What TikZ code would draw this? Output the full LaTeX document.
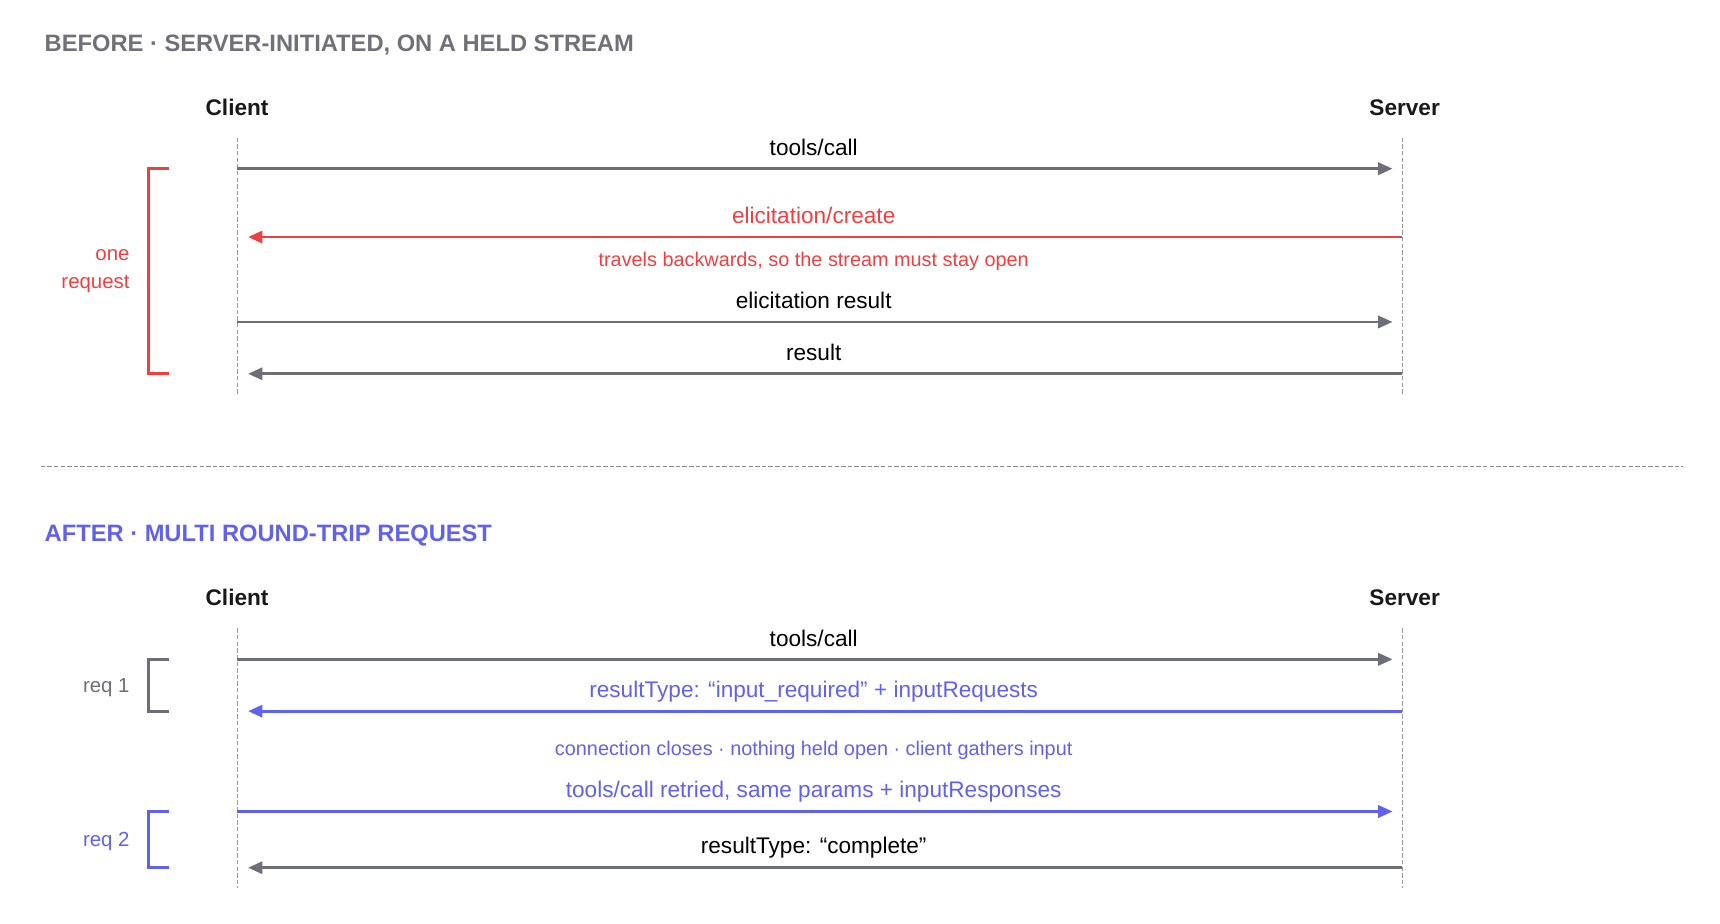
\documentclass[tikz,border=0pt]{standalone}
\usepackage{fontspec}
\setmainfont{Liberation Sans}
\usetikzlibrary{arrows.meta}
\definecolor{gr}{HTML}{6E6E78}
\definecolor{rd}{HTML}{EE4040}
\definecolor{bl}{HTML}{6062EC}
\definecolor{tg}{HTML}{707078}
\begin{document}
\begin{tikzpicture}[x=1pt,y=-1pt,
  lbl/.style={font=\fontsize{20.5}{22}\selectfont,anchor=base},
  note/.style={font=\fontsize{18}{19}\selectfont,anchor=base},
  side/.style={font=\fontsize{18.5}{20}\selectfont,anchor=base east},
  ttl/.style={font=\fontsize{21.5}{23}\selectfont\bfseries,anchor=base west},
  actor/.style={font=\fontsize{20.5}{22}\selectfont\bfseries,anchor=base,text=black!90},
  life/.style={draw=gr!70,dashed,dash pattern=on 4pt off 2pt,line width=0.9pt},
  msg/.style={line width=2.6pt,-{Triangle[length=13pt,width=11pt]}},
  brk/.style={line width=2.6pt}]
\useasboundingbox (0,0) rectangle (1560,838);
% ---------- BEFORE
\node[ttl,text=tg] (t1) at (37,47) {BEFORE · SERVER-INITIATED, ON A HELD STREAM};
\node[actor] (c1) at (215,105) {Client};
\node[actor] (s1) at (1274,105) {Server};
\coordinate (c1t) at (215,125); \coordinate (c1b) at (215,357);
\coordinate (s1t) at (1272,125); \coordinate (s1b) at (1272,357);
\draw[life] (c1t) -- (c1b); \draw[life] (s1t) -- (s1b);
\coordinate (a1) at (215,153); \coordinate (a1e) at (1263,153);
\draw[msg,gr] (a1) -- (a1e);
\node[lbl] (l1) at (738,141) {tools/call};
\coordinate (a2) at (1272,215); \coordinate (a2e) at (225,215);
\draw[msg,rd] (a2) -- (a2e);
\node[lbl,text=rd] (l2) at (738,203) {elicitation/create};
\node[note,text=rd] (n1) at (738,242) {travels backwards, so the stream must stay open};
\coordinate (a3) at (215,292); \coordinate (a3e) at (1263,292);
\draw[msg,gr] (a3) -- (a3e);
\node[lbl] (l3) at (738,280) {elicitation result};
\coordinate (a4) at (1272,339); \coordinate (a4e) at (225,339);
\draw[msg,gr] (a4) -- (a4e);
\node[lbl] (l4) at (738,327) {result};
\coordinate (b1a) at (153,153); \coordinate (b1b) at (135,153);
\coordinate (b1c) at (135,339); \coordinate (b1d) at (153,339);
\draw[brk,rd] (b1a) -- (b1b) -- (b1c) -- (b1d);
\node[side,text=rd] (o1) at (121,236) {one};
\node[side,text=rd] (o2) at (121,262) {request};
% ---------- separator
\coordinate (d1) at (37,423); \coordinate (d2) at (1526,423);
\draw[gr!80,dashed,dash pattern=on 4pt off 2pt,line width=0.9pt] (d1) -- (d2);
% ---------- AFTER
\node[ttl,text=bl] (t2) at (37,491) {AFTER · MULTI ROUND-TRIP REQUEST};
\node[actor] (c2) at (215,549) {Client};
\node[actor] (s2) at (1274,549) {Server};
\coordinate (c2t) at (215,570); \coordinate (c2b) at (215,805);
\coordinate (s2t) at (1272,570); \coordinate (s2b) at (1272,805);
\draw[life] (c2t) -- (c2b); \draw[life] (s2t) -- (s2b);
\coordinate (e1) at (215,598); \coordinate (e1e) at (1263,598);
\draw[msg,gr] (e1) -- (e1e);
\node[lbl] (m1) at (738,586) {tools/call};
\coordinate (e2) at (1272,645); \coordinate (e2e) at (225,645);
\draw[msg,bl] (e2) -- (e2e);
\node[lbl,text=bl] (m2) at (738,633) {resultType: “input\_required” + inputRequests};
\node[note,text=bl] (n2) at (738,685) {connection closes · nothing held open · client gathers input};
\coordinate (e3) at (215,736); \coordinate (e3e) at (1263,736);
\draw[msg,bl] (e3) -- (e3e);
\node[lbl,text=bl] (m3) at (738,723) {tools/call retried, same params + inputResponses};
\coordinate (e4) at (1272,787); \coordinate (e4e) at (225,787);
\draw[msg,gr] (e4) -- (e4e);
\node[lbl] (m4) at (738,774) {resultType: “complete”};
\coordinate (b2a) at (153,598); \coordinate (b2b) at (135,598);
\coordinate (b2c) at (135,645); \coordinate (b2d) at (153,645);
\draw[brk,gr] (b2a) -- (b2b) -- (b2c) -- (b2d);
\node[side,text=gr] (r1) at (121,628) {req 1};
\coordinate (b3a) at (153,736); \coordinate (b3b) at (135,736);
\coordinate (b3c) at (135,787); \coordinate (b3d) at (153,787);
\draw[brk,bl] (b3a) -- (b3b) -- (b3c) -- (b3d);
\node[side,text=bl] (r2) at (121,768) {req 2};
\end{tikzpicture}
\end{document}
